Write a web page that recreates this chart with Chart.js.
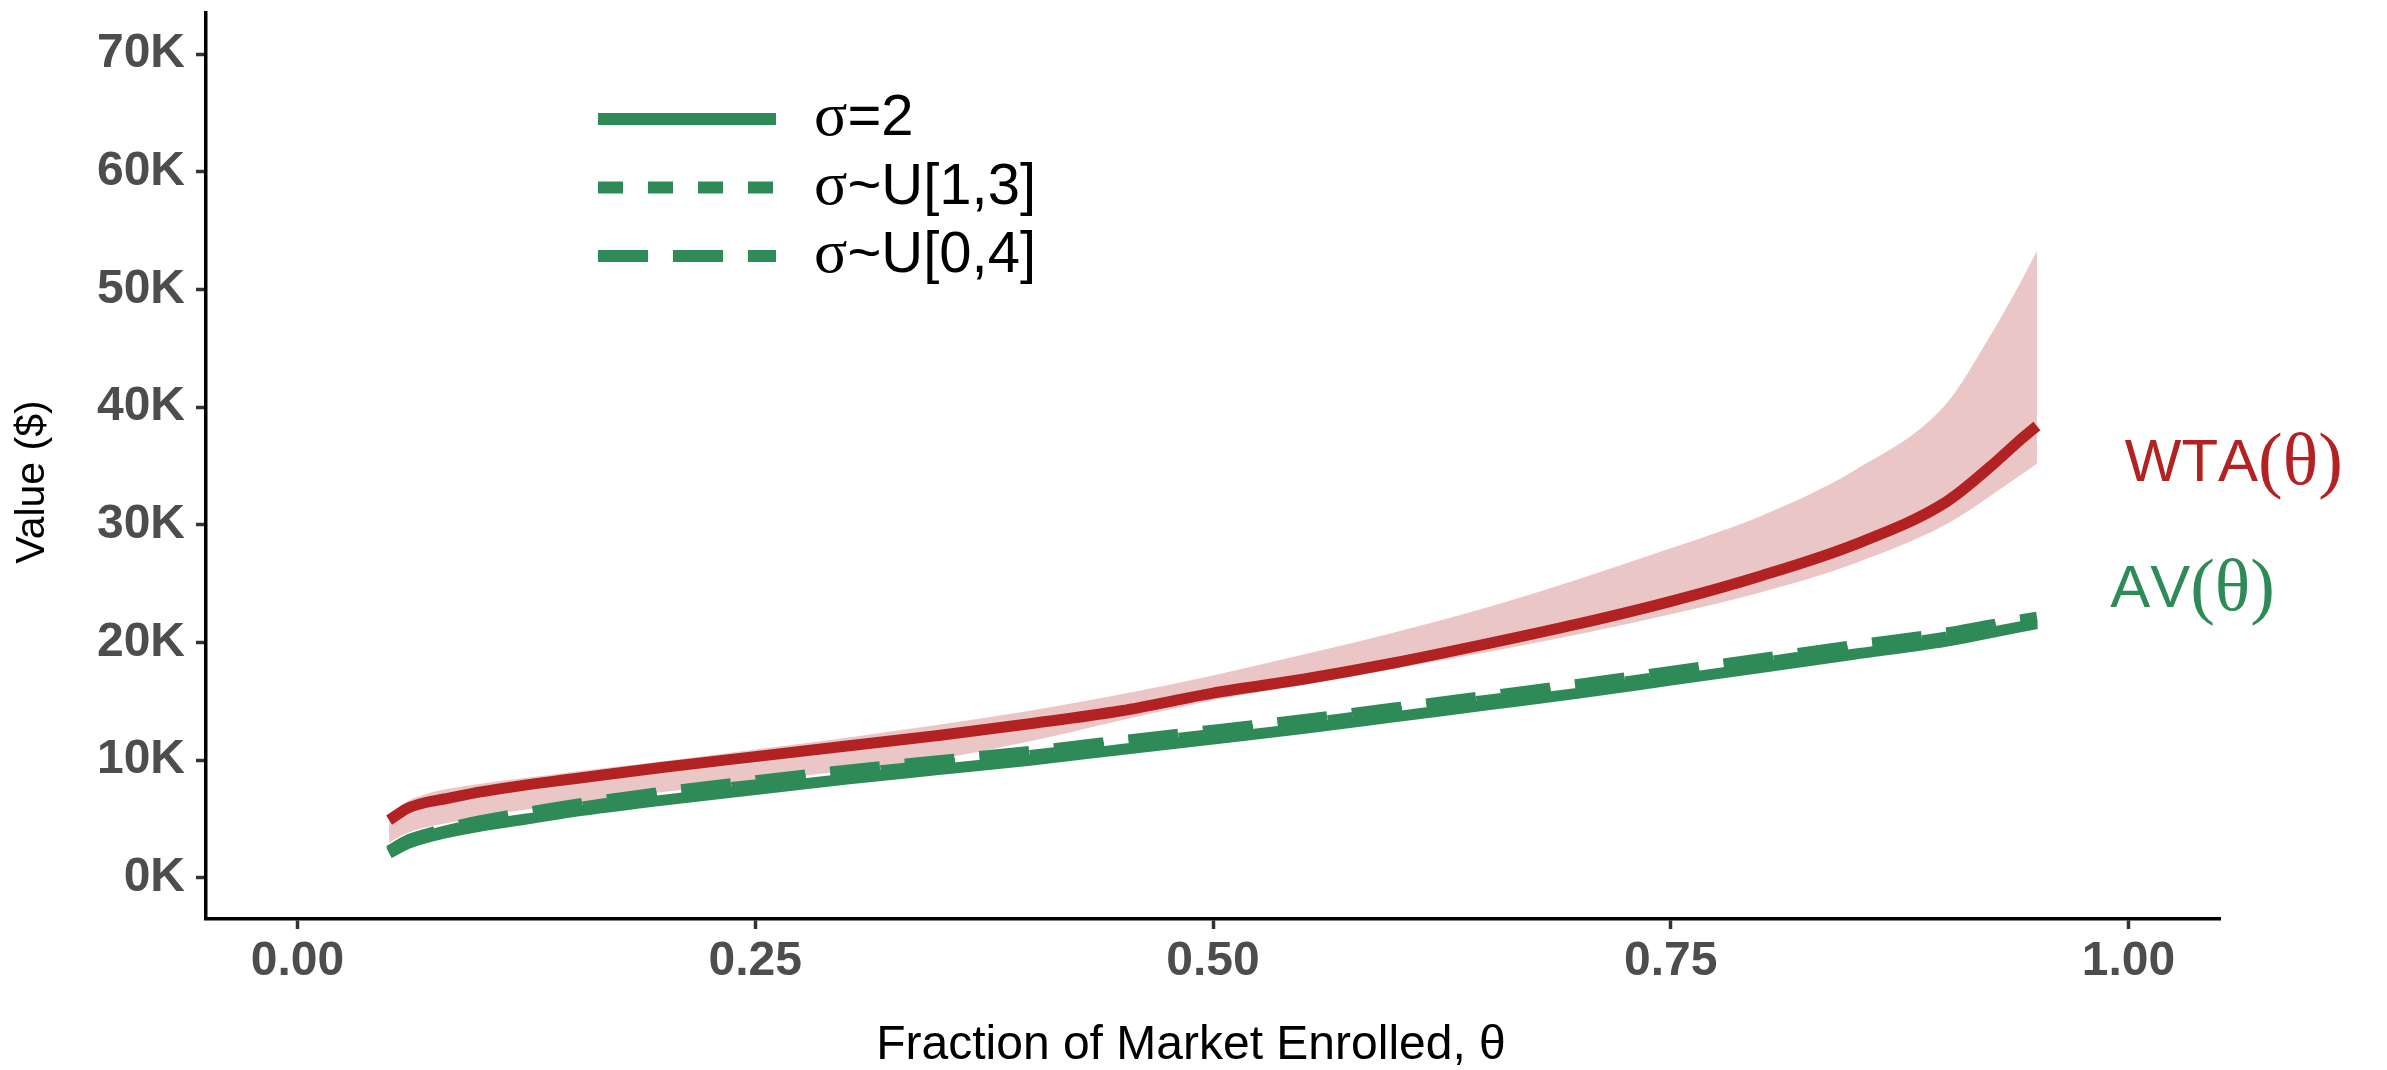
<!DOCTYPE html>
<html><head><meta charset="utf-8">
<script src="https://cdn.jsdelivr.net/npm/chart.js@4/dist/chart.umd.min.js"></script>
<style>html,body{margin:0;padding:0;background:#fff;}canvas{display:block;}</style>
</head><body>
<canvas id="c" width="2387" height="1070"></canvas>
<script>
// ---- data ----
const theta = [0.05,0.06,0.07,0.08,0.10,0.125,0.15,0.20,0.25,0.30,0.35,0.40,0.45,0.50,0.55,0.60,0.65,0.70,0.75,0.80,0.85,0.90,0.925,0.94,0.95];
const wta     = [4900,5900,6400,6700,7300,7900,8400,9400,10300,11200,12100,13100,14200,15700,16900,18300,19900,21600,23500,25700,28300,31900,35000,37100,38400];
const wtaLow  = [3000,3800,4300,4600,5200,5800,6300,7300,8200,9100,10100,11600,13400,15100,16400,17800,19200,20700,22400,24300,26700,30000,32500,34100,35200];
const wtaHigh = [5300,6500,7100,7500,8000,8500,9000,9900,10900,11900,13000,14200,15600,17200,19000,20900,23000,25400,28000,30800,34600,40200,46200,50300,53300];
const avS2    = [2100,2900,3400,3800,4400,5000,5600,6600,7500,8400,9200,10000,10900,11800,12700,13700,14700,15700,16800,17900,19000,20100,20850,21300,21600];
const avU13   = [2200,3050,3550,3950,4650,5300,5900,7000,7900,8800,9600,10400,11300,12200,13100,14100,15100,16100,17200,18300,19400,20450,21200,21650,21900];
const avU04   = [2300,3200,3700,4150,4850,5550,6200,7300,8250,9150,9950,10750,11650,12550,13450,14450,15450,16450,17550,18650,19750,20800,21500,21900,22150];
const xTicks = [0, 0.25, 0.5, 0.75, 1.0];
const xTickLabels = ['0.00','0.25','0.50','0.75','1.00'];
const yTicks = [0,10000,20000,30000,40000,50000,60000,70000];
const yTickLabels = ['0K','10K','20K','30K','40K','50K','60K','70K'];
const seriesNames = ['σ=2','σ~U[1,3]','σ~U[0,4]'];
const curveLabels = ['WTA(θ)','AV(θ)'];
const xTitle = 'Fraction of Market Enrolled, θ';
const yTitle = 'Value ($)';

const RED = '#B22222', GREEN = '#2E8B57', BAND = 'rgba(178,34,34,0.26)';
const pts = arr => theta.map((t,i) => ({x:t, y:arr[i]}));
const LW = 11;

function drawMixed(ctx, str, x, y, sans, serif) {
  let cx = x;
  for (const ch of str) {
    ctx.font = /[\u0370-\u03FF()]/.test(ch) && serif ? serif : sans;
    ctx.fillText(ch, cx, y);
    cx += ctx.measureText(ch).width;
  }
}
function mixedWidth(ctx, str, sans, serif) {
  let w = 0;
  for (const ch of str) {
    ctx.font = /[\u0370-\u03FF()]/.test(ch) && serif ? serif : sans;
    w += ctx.measureText(ch).width;
  }
  return w;
}

const overlay = {
  id: 'overlay',
  afterDraw(chart, args, opts) {
    const ctx = chart.ctx;
    ctx.save();
    // legend
    const lg = opts.legend;
    lg.items.forEach((idx, k) => {
      const ds = chart.data.datasets[idx];
      const y = lg.y0 + k * lg.dy;
      ctx.beginPath();
      ctx.setLineDash(ds.borderDash || []);
      ctx.lineCap = 'butt';
      ctx.strokeStyle = ds.borderColor;
      ctx.lineWidth = lg.lineWidth;
      ctx.moveTo(lg.x0, y); ctx.lineTo(lg.x1, y); ctx.stroke();
      ctx.setLineDash([]);
      ctx.fillStyle = '#000';
      ctx.textBaseline = 'middle'; ctx.textAlign = 'left';
      drawMixed(ctx, ds.label, lg.tx, y, lg.font, lg.serifFont);
    });
    // curve labels
    const xs = chart.scales.x, ys = chart.scales.y;
    opts.labels.forEach(l => {
      ctx.fillStyle = l.color;
      ctx.textBaseline = 'middle'; ctx.textAlign = 'left';
      drawMixed(ctx, l.text, xs.getPixelForValue(l.x), ys.getPixelForValue(l.y), l.font, l.serifFont);
    });
    // axis titles
    ctx.fillStyle = '#000';
    ctx.textBaseline = 'middle'; ctx.textAlign = 'left';
    const t = opts.xTitle;
    const w = mixedWidth(ctx, t.text, t.font, null);
    drawMixed(ctx, t.text, t.cx - w / 2, t.cy, t.font, null);
    const yt = opts.yTitle;
    ctx.save();
    ctx.translate(yt.cx, yt.cy);
    ctx.rotate(-Math.PI / 2);
    ctx.font = yt.font;
    ctx.textAlign = 'center';
    ctx.fillText(yt.text, 0, 0);
    ctx.restore();
    ctx.restore();
  }
};

const tickFont = {family: 'Liberation Sans', size: 48, weight: 'bold'};

new Chart(document.getElementById('c'), {
  type: 'line',
  data: {
    datasets: [
      {label: 'WTA', data: pts(wta), borderColor: RED, borderWidth: LW, order: 0, fill: false},
      {label: seriesNames[0], data: pts(avS2), borderColor: GREEN, borderWidth: LW, order: 3, fill: false},
      {label: seriesNames[1], data: pts(avU13), borderColor: GREEN, borderWidth: LW, borderDash: [25,25], order: 2, fill: false},
      {label: seriesNames[2], data: pts(avU04), borderColor: GREEN, borderWidth: LW, borderDash: [50,25], order: 1, fill: false},
      {label: 'band high', data: pts(wtaHigh), borderWidth: 0, borderColor: 'rgba(0,0,0,0)', backgroundColor: BAND, fill: 5, order: 5},
      {label: 'band low', data: pts(wtaLow), borderWidth: 0, borderColor: 'rgba(0,0,0,0)', backgroundColor: BAND, fill: false, order: 6}
    ]
  },
  options: {
    responsive: false,
    animation: false,
    devicePixelRatio: 1,
    layout: {padding: {left: 0, top: 13, right: 167, bottom: 0}},
    elements: {point: {radius: 0, hoverRadius: 0}, line: {cubicInterpolationMode: 'monotone', borderCapStyle: 'butt', borderJoinStyle: 'round'}},
    plugins: {
      legend: {display: false},
      tooltip: {enabled: false},
      overlay: {
        legend: {items: [1,2,3], x0: 598, x1: 776, tx: 814, y0: 119, dy: 68.5, lineWidth: 12,
                 font: '58px "Liberation Sans"', serifFont: '62px "Liberation Serif"'},
        labels: [
          {text: curveLabels[0], x: 0.998, y: 35100, color: RED, font: '60px "Liberation Sans"', serifFont: '74px "Liberation Serif"'},
          {text: curveLabels[1], x: 0.990, y: 24400, color: GREEN, font: '60px "Liberation Sans"', serifFont: '74px "Liberation Serif"'}
        ],
        xTitle: {text: xTitle, cx: 1191, cy: 1046, font: '48px "Liberation Sans"'},
        yTitle: {text: yTitle, cx: 33, cy: 482, font: '41px "Liberation Sans"'}
      }
    },
    scales: {
      x: {
        type: 'linear', min: -0.05, max: 1.05,
        afterBuildTicks: s => { s.ticks = xTicks.map(v => ({value: v})); },
        afterFit: s => { s.height = 151; s.paddingLeft = 0; s.paddingRight = 0; },
        ticks: {font: tickFont, color: '#4D4D4D', padding: 4, maxRotation: 0,
                callback: (v) => xTickLabels[xTicks.indexOf(v)] ?? ''},
        grid: {drawOnChartArea: false, drawTicks: true, tickLength: 10, tickColor: '#333333', tickWidth: 3.5},
        border: {display: true, color: '#000', width: 3.5},
        title: {display: false}
      },
      y: {
        type: 'linear', min: -3500, max: 73500,
        afterBuildTicks: s => { s.ticks = yTicks.map(v => ({value: v})); },
        afterFit: s => { s.width = 206; s.paddingTop = 0; s.paddingBottom = 0; },
        ticks: {font: tickFont, color: '#4D4D4D', padding: 11,
                callback: (v) => yTickLabels[yTicks.indexOf(v)] ?? ''},
        grid: {drawOnChartArea: false, drawTicks: true, tickLength: 10, tickColor: '#333333', tickWidth: 3.5},
        border: {display: true, color: '#000', width: 3.5},
        title: {display: false}
      }
    }
  },
  plugins: [overlay]
});
</script>
</body></html>
